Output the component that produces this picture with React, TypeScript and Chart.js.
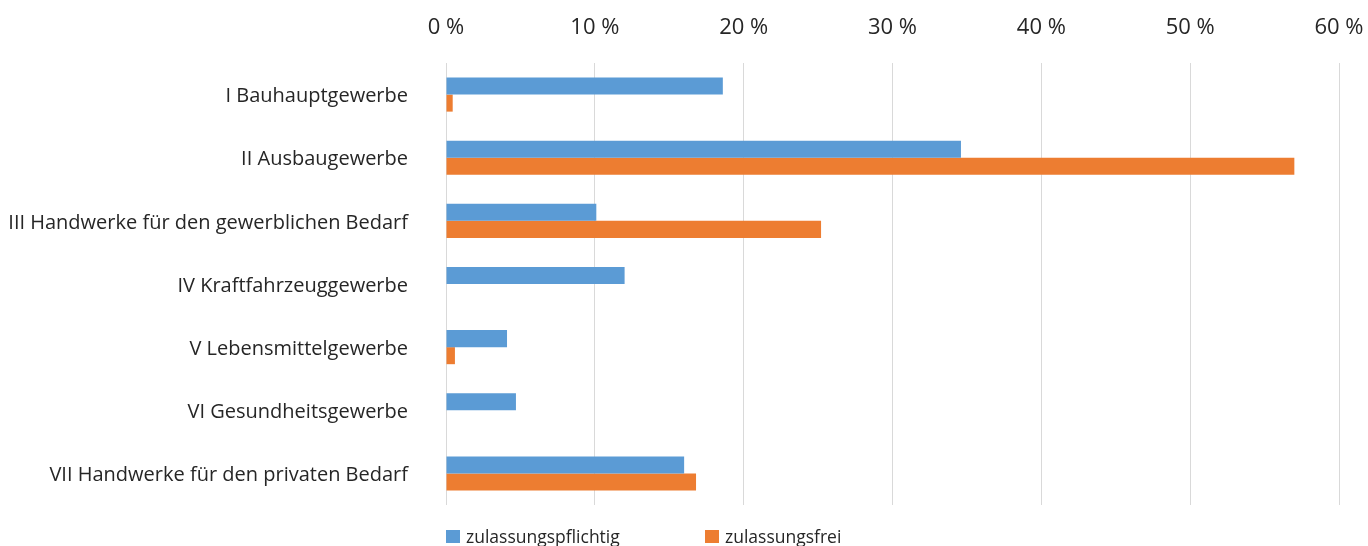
import { useEffect, useRef } from "react";
import { Chart, registerables } from "chart.js";

Chart.register(...registerables);

const categories = [
  "I Bauhauptgewerbe",
  "II Ausbaugewerbe",
  "III Handwerke für den gewerblichen Bedarf",
  "IV Kraftfahrzeuggewerbe",
  "V Lebensmittelgewerbe",
  "VI Gesundheitsgewerbe",
  "VII Handwerke für den privaten Bedarf",
];
const seriesNames = ["zulassungspflichtig", "zulassungsfrei"];
const pflichtig = [18.6, 34.6, 10.1, 12.0, 4.1, 4.7, 16.0];
const frei = [0.45, 57.0, 25.2, 0, 0.6, 0, 16.8];
const xMin = 0;
const xMax = 60;
const xStep = 10;
const tickSuffix = " %";

const FONT = '"Open Sans", "Noto Sans", sans-serif';
const TEXT = "#262626";

const legendPlugin = {
  id: "customLegend",
  afterDraw(chart: any) {
    const ctx = chart.ctx;
    const left = chart.chartArea.left;
    const y = chart.chartArea.bottom + 32;
    ctx.save();
    ctx.font = `17.5px ${FONT}`;
    ctx.textBaseline = "middle";
    ctx.textAlign = "left";
    let x = left;
    chart.data.datasets.forEach((ds: any) => {
      ctx.fillStyle = ds.backgroundColor;
      ctx.fillRect(x, y - 7, 14, 13);
      ctx.fillStyle = TEXT;
      ctx.fillText(ds.label, x + 20, y + 1);
      x += 259;
    });
    ctx.restore();
  },
};

const zeroPad = (s: any) => {
  s.paddingTop = 0;
  s.paddingBottom = 0;
  s.paddingLeft = 0;
  s.paddingRight = 0;
};

export default function App() {
  const ref = useRef<HTMLCanvasElement | null>(null);
  useEffect(() => {
    if (!ref.current) return;
    const chart = new Chart(ref.current, {
      type: "bar",
      data: {
        labels: categories,
        datasets: [
          {
            label: seriesNames[0],
            data: pflichtig,
            backgroundColor: "#5B9BD5",
            borderWidth: 0,
          },
          {
            label: seriesNames[1],
            data: frei,
            backgroundColor: "#ED7D31",
            borderWidth: 0,
          },
        ],
      },
      options: {
        indexAxis: "y",
        animation: false,
        responsive: false,
        maintainAspectRatio: false,
        layout: { padding: { left: 0, right: 29, top: 0, bottom: 41 } },
        plugins: {
          legend: { display: false },
          tooltip: { enabled: false },
        },
        datasets: {
          bar: { categoryPercentage: 0.54, barPercentage: 1 },
        },
        scales: {
          x: {
            position: "top",
            min: xMin,
            max: xMax,
            grid: { color: "#d9d9d9", drawTicks: false, lineWidth: 1 },
            border: { display: false },
            ticks: {
              stepSize: xStep,
              padding: 22,
              color: TEXT,
              font: { family: FONT, size: 22 },
              callback: (v: any) => `${v}${tickSuffix}`,
            },
            afterFit: (s: any) => {
              s.height = 63;
              zeroPad(s);
            },
          },
          y: {
            grid: { display: false, drawTicks: false },
            border: { display: false },
            ticks: {
              padding: 38,
              labelOffset: 2,
              color: TEXT,
              font: { family: FONT, size: 20 },
            },
            afterFit: (s: any) => {
              s.width = 446;
              zeroPad(s);
            },
          },
        },
      },
      plugins: [legendPlugin],
    });
    return () => chart.destroy();
  }, []);
  return (
    <div style={{ position: "fixed", left: 0, top: 0, width: 1368, height: 546, background: "#fff" }}>
      <canvas ref={ref} width={1368} height={546} style={{ width: 1368, height: 546 }} />
    </div>
  );
}
